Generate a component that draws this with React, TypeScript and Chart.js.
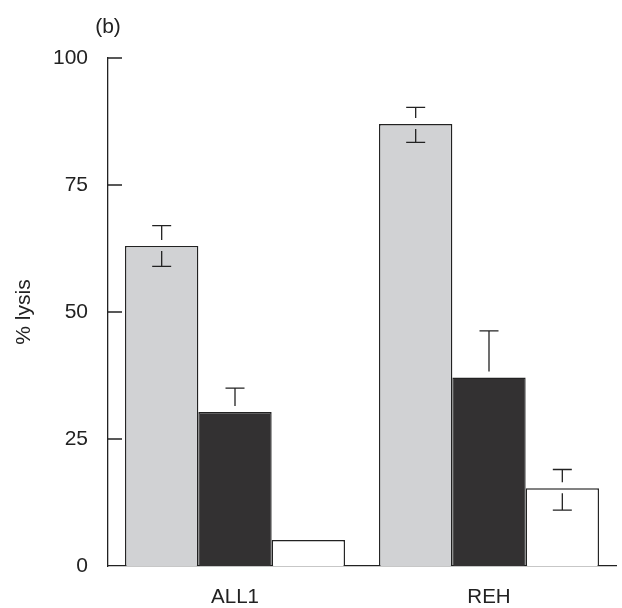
import React, { useEffect, useRef } from "react";
import { Chart, registerables } from "chart.js";

Chart.register(...registerables);

const categories = ["ALL1", "REH"];
const greyValues = [63, 87];
const greyHigh = [67, 90.3];
const greyLow = [59, 83.4];
const blackValues = [30.3, 37.1];
const blackHigh = [35, 46.3];
const blackLow: (number | null)[] = [null, null];
const whiteValues = [5.1, 15.3];
const whiteHigh: (number | null)[] = [null, 19];
const whiteLow: (number | null)[] = [null, 11];
const yTicks = [0, 25, 50, 75, 100];

const INK = "#222222";
const FONT = "'Liberation Sans', Arial, sans-serif";

const errorBars = {
  id: "errorBars",
  afterDatasetsDraw(chart: any) {
    const ctx = chart.ctx;
    const yScale = chart.scales.y;
    ctx.save();
    ctx.strokeStyle = INK;
    ctx.lineWidth = 1.3;
    chart.data.datasets.forEach((ds: any, i: number) => {
      const meta = chart.getDatasetMeta(i);
      meta.data.forEach((el: any, j: number) => {
        const hi = ds.errHigh[j];
        const lo = ds.errLow[j];
        const x = el.x;
        const top = el.y;
        if (hi != null) {
          const yh = yScale.getPixelForValue(hi);
          ctx.beginPath();
          ctx.moveTo(x, yh);
          ctx.lineTo(x, top - 6);
          ctx.moveTo(x - 9.5, yh);
          ctx.lineTo(x + 9.5, yh);
          ctx.stroke();
        }
        if (lo != null) {
          const yl = yScale.getPixelForValue(lo);
          ctx.beginPath();
          ctx.moveTo(x, top + 5);
          ctx.lineTo(x, yl);
          ctx.moveTo(x - 9.5, yl);
          ctx.lineTo(x + 9.5, yl);
          ctx.stroke();
        }
      });
    });
    // inward tick marks on y axis
    const left = chart.chartArea.left;
    ctx.beginPath();
    yTicks.forEach((v) => {
      if (v === 0) return;
      const y = yScale.getPixelForValue(v);
      ctx.moveTo(left, y);
      ctx.lineTo(left + 14, y);
    });
    ctx.stroke();
    // panel label and axis title
    ctx.fillStyle = INK;
    ctx.font = `21px ${FONT}`;
    ctx.textAlign = "center";
    ctx.textBaseline = "middle";
    ctx.fillText("(b)", 108, 27);
    ctx.save();
    ctx.translate(24, 312);
    ctx.rotate(-Math.PI / 2);
    ctx.fillText("% lysis", 0, 0);
    ctx.restore();
    ctx.restore();
  },
};

export default function App() {
  const ref = useRef<HTMLCanvasElement>(null);
  useEffect(() => {
    if (!ref.current) return;
    const common = {
      borderColor: INK,
      borderWidth: 1.4,
      barPercentage: 1,
      categoryPercentage: 0.866,
    };
    const chart = new Chart(ref.current, {
      type: "bar",
      data: {
        labels: categories,
        datasets: [
          { ...common, data: greyValues, backgroundColor: "#d1d2d4", errHigh: greyHigh, errLow: greyLow } as any,
          { ...common, data: blackValues, backgroundColor: "#333132", errHigh: blackHigh, errLow: blackLow } as any,
          { ...common, data: whiteValues, backgroundColor: "#ffffff", errHigh: whiteHigh, errLow: whiteLow } as any,
        ],
      },
      options: {
        animation: false,
        responsive: true,
        maintainAspectRatio: false,
        layout: { padding: { top: 58, right: 6, left: 0, bottom: 0 } },
        plugins: { legend: { display: false }, tooltip: { enabled: false }, title: { display: false } },
        scales: {
          x: {
            grid: { display: false, drawTicks: false },
            border: { display: true, color: INK, width: 1.3 },
            ticks: { color: INK, font: { family: FONT, size: 20.5 }, padding: 19 },
            afterFit: (s: any) => { s.height = 42; },
          },
          y: {
            min: 0,
            max: 100,
            grid: { display: false, drawTicks: false },
            border: { display: true, color: INK, width: 1.3 },
            ticks: {
              stepSize: 25,
              color: INK,
              font: { family: FONT, size: 21 },
              padding: 20,
              callback: (v: any) => (yTicks.includes(Number(v)) ? String(v) : ""),
            },
            afterFit: (s: any) => { s.width = 108; },
          },
        },
      },
      plugins: [errorBars],
    });
    return () => chart.destroy();
  }, []);
  return (
    <div style={{ position: "absolute", left: 0, top: 0, width: 622, height: 608, background: "#fff" }}>
      <canvas ref={ref} />
    </div>
  );
}
